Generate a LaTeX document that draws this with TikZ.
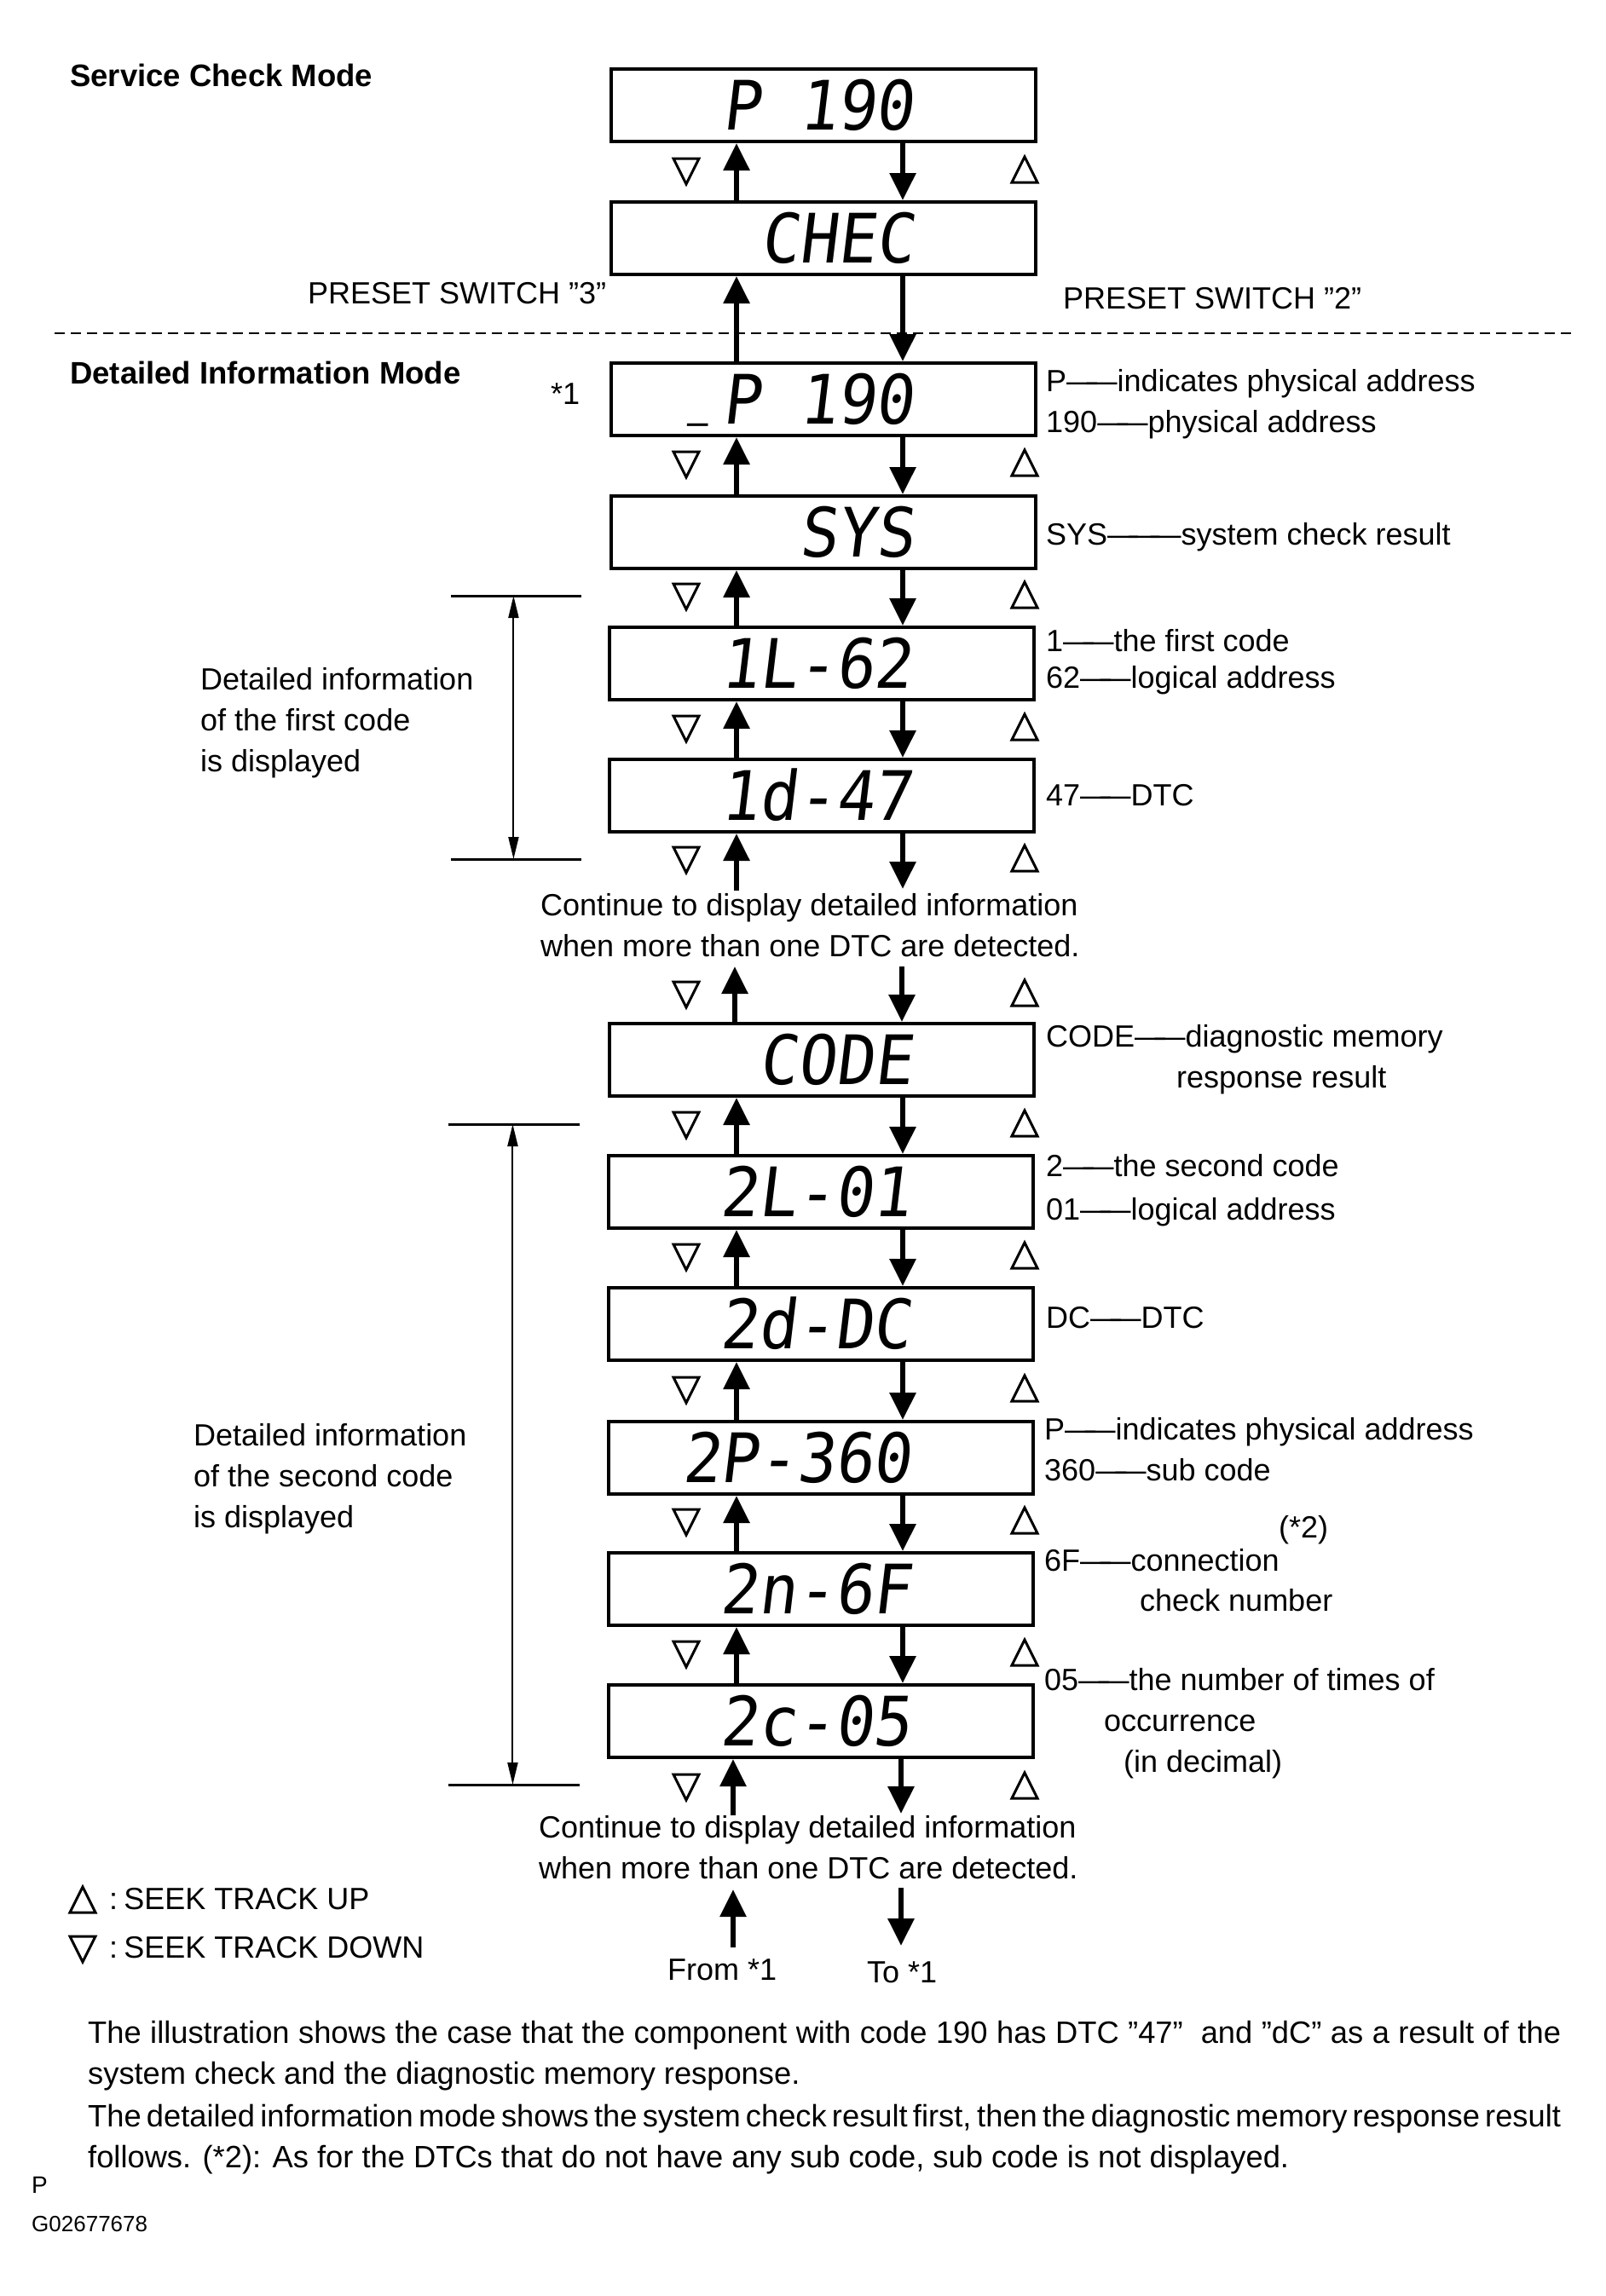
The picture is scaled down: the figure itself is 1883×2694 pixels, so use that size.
\documentclass[tikz,border=0pt]{standalone}
\usepackage{fontspec}
\setmainfont{Liberation Sans}
\newfontfamily\lcdfont[FakeSlant=0.12,FakeStretch=0.93]{DejaVu Sans Mono}
\usetikzlibrary{arrows.meta,calc}
\newcommand\lgdash{\mbox{—\kern-.35em—}}
\newcommand\lgdashL{\mbox{—\kern-.3em—\kern-.3em—}}
\newcommand\fitline[1]{\makebox[1728pt][s]{\spaceskip=0.12em plus 1em\relax #1}}
\begin{document}
\begin{tikzpicture}[x=1pt,y=-1pt,
  lbl/.style={anchor=base west, font=\fontsize{36}{42}\selectfont, inner sep=0pt},
  hdr/.style={anchor=base west, font=\fontsize{36.5}{42}\selectfont\bfseries, inner sep=0pt},
  note/.style={anchor=base west, font=\fontsize{36.3}{42}\selectfont, inner sep=0pt},
  lcdbox/.style={draw, line width=4pt, minimum width=498pt, minimum height=85pt, anchor=north west, inner sep=0pt},
  lcdtxt/.style={anchor=base east, font=\fontsize{80}{80}\lcdfont, inner sep=0pt},
  uparr/.style={line width=6pt, -{Triangle[length=32pt,width=30pt]}},
  dnarr/.style={line width=6pt, -{Triangle[length=32pt,width=30pt]}},
  brk/.style={line width=3pt},
  dimarr/.style={line width=2pt, {Triangle[length=26pt,width=12pt]}-{Triangle[length=26pt,width=12pt]}},
  sepline/.style={line width=2.5pt, dash pattern=on 12pt off 7pt},
  tup/.pic={\draw[line width=3pt, line join=miter] (-15,14) -- (15,14) -- (0,-16) -- cycle;},
  tdown/.pic={\draw[line width=3pt, line join=miter] (-15,-14) -- (15,-14) -- (0,16) -- cycle;}
]
\useasboundingbox (0,0) rectangle (1883,2694);
\fill[white] (0,0) rectangle (1883,2694);

\coordinate (ux) at (864,0);
\coordinate (dx) at (1059,0);

% display boxes
\node[lcdbox] (b1) at (715,79) {};
\node[lcdbox] (b2) at (715,235) {};
\node[lcdbox] (b3) at (715,424) {};
\node[lcdbox] (b4) at (715,580) {};
\node[lcdbox] (b5) at (713,734) {};
\node[lcdbox] (b6) at (713,889) {};
\node[lcdbox] (b7) at (713,1199) {};
\node[lcdbox] (b8) at (712,1354) {};
\node[lcdbox] (b9) at (712,1509) {};
\node[lcdbox] (b10) at (712,1666) {};
\node[lcdbox] (b11) at (712,1820) {};
\node[lcdbox] (b12) at (712,1975) {};

% display texts
\node[lcdtxt] at ($(b1.east)+(-145,29)$) {P 190};
\node[lcdtxt] at ($(b2.east)+(-145,29)$) {CHEC};
\node[lcdtxt] at ($(b3.east)+(-145,29)$) {\raisebox{0.2em}{\scalebox{0.55}[1]{\_}}\kern0.2em P 190};
\node[lcdtxt] at ($(b4.east)+(-145,29)$) {SYS};
\node[lcdtxt] at ($(b5.east)+(-145,29)$) {1L-62};
\node[lcdtxt] at ($(b6.east)+(-145,29)$) {1d-47};
\node[lcdtxt] at ($(b7.east)+(-145,29)$) {CODE};
\node[lcdtxt] at ($(b8.east)+(-145,29)$) {2L-01};
\node[lcdtxt] at ($(b9.east)+(-145,29)$) {2d-DC};
\node[lcdtxt] at ($(b10.east)+(-145,29)$) {2P-360};
\node[lcdtxt] at ($(b11.east)+(-145,29)$) {2n-6F};
\node[lcdtxt] at ($(b12.east)+(-145,29)$) {2c-05};

% arrows between boxes
\foreach \a/\b in {b1/b2,b2/b3,b3/b4,b4/b5,b5/b6,b7/b8,b8/b9,b9/b10,b10/b11,b11/b12}{
  \draw[uparr] (\b.north -| ux) -- (\a.south -| ux);
  \draw[dnarr] (\a.south -| dx) -- (\b.north -| dx);
}
% free ends
\coordinate (f1u) at (864,1045);
\coordinate (f1d) at (1059,1043);
\coordinate (f2u) at (862,1134);
\coordinate (f2d) at (1058,1134);
\coordinate (f3u) at (860,2130);
\coordinate (f3d) at (1057,2128);
\draw[uparr] (f1u) -- (b6.south -| f1u);
\draw[dnarr] (b6.south -| f1d) -- (f1d);
\draw[uparr] (b7.north -| f2u) -- (f2u);
\draw[dnarr] (f2d) -- (b7.north -| f2d);
\draw[uparr] (f3u) -- (b12.south -| f3u);
\draw[dnarr] (b12.south -| f3d) -- (f3d);
\coordinate (g1) at (860,2285);
\coordinate (g2) at (860,2217);
\coordinate (g3) at (1057,2215);
\coordinate (g4) at (1057,2283);
\draw[uparr] (g1) -- (g2);
\draw[dnarr] (g3) -- (g4);

% seek triangles
\foreach \y in {200,544,699,854,1008,1166,1319,1474,1630,1785,1940,2096}{
  \pic at (805,\y) {tdown};
  \pic at (1202,\y) {tup};
}

% separator
\coordinate (s1) at (64,391);
\coordinate (s2) at (1847,391);
\draw[sepline] (s1) -- (s2);

% brackets
\coordinate (k1a) at (529,699); \coordinate (k1b) at (682,699);
\coordinate (k1c) at (529,1008); \coordinate (k1d) at (682,1008);
\draw[brk] (k1a) -- (k1b);
\draw[brk] (k1c) -- (k1d);
\draw[dimarr] ($(k1a)!0.48!(k1b)$) -- ($(k1c)!0.48!(k1d)$);
\coordinate (k2a) at (526,1319); \coordinate (k2b) at (680,1319);
\coordinate (k2c) at (526,2094); \coordinate (k2d) at (680,2094);
\draw[brk] (k2a) -- (k2b);
\draw[brk] (k2c) -- (k2d);
\draw[dimarr] ($(k2a)!0.49!(k2b)$) -- ($(k2c)!0.49!(k2d)$);

% headings and labels
\node[hdr] (h1) at (82,101) {Service Check Mode};
\node[hdr] (h2) at (82,450) {Detailed Information Mode};
\node[lbl] (ps3) at (361,356) {PRESET SWITCH ”3”};
\node[lbl] (ps2) at (1247,362) {PRESET SWITCH ”2”};
\node[lbl] (st1) at (646,474) {*1};

\node[lbl] at (1227,459) {P\lgdash indicates physical address};
\node[lbl] at (1227,507) {190\lgdash physical address};
\node[lbl] at (1227,639) {SYS\lgdashL system check result};
\node[lbl] at (1227,764) {1\lgdash the first code};
\node[lbl] at (1227,807) {62\lgdash logical address};
\node[lbl] at (1227,945) {47\lgdash DTC};

\node[lbl] at (235,809) {Detailed information};
\node[lbl] at (235,857) {of the first code};
\node[lbl] at (235,905) {is displayed};

\node[lbl] at (634,1074) {Continue to display detailed information};
\node[lbl] at (634,1122) {when more than one DTC are detected.};

\node[lbl] at (1227,1228) {CODE\lgdash diagnostic memory};
\node[lbl] at (1380,1276) {response result};
\node[lbl] at (1227,1380) {2\lgdash the second code};
\node[lbl] at (1227,1431) {01\lgdash logical address};
\node[lbl] at (1227,1558) {DC\lgdash DTC};

\node[lbl] at (227,1696) {Detailed information};
\node[lbl] at (227,1744) {of the second code};
\node[lbl] at (227,1792) {is displayed};

\node[lbl] at (1225,1689) {P\lgdash indicates physical address};
\node[lbl] at (1225,1737) {360\lgdash sub code};
\node[lbl] at (1500,1804) {(*2)};
\node[lbl] at (1225,1843) {6F\lgdash connection};
\node[lbl] at (1337,1890) {check number};
\node[lbl] at (1225,1983) {05\lgdash the number of times of};
\node[lbl] at (1295,2031) {occurrence};
\node[lbl] at (1318,2079) {(in decimal)};

\node[lbl] at (632,2156) {Continue to display detailed information};
\node[lbl] at (632,2204) {when more than one DTC are detected.};

% legend
\pic at (97,2230) {tup};
\node[lbl] at (128,2240) {:\kern0.2em SEEK TRACK UP};
\pic at (97,2286) {tdown};
\node[lbl] at (128,2297) {:\kern0.2em SEEK TRACK DOWN};

\node[lbl] at (783,2323) {From *1};
\node[lbl] at (1017,2326) {To *1};

% note
\node[note] at (103,2397) {\fitline{The illustration shows the case that the component with code 190 has DTC ”47”\ \ and ”dC” as a result of the}};
\node[note] at (103,2445) {system check and the diagnostic memory response.};
\node[note] at (103,2495) {\fitline{The detailed information mode shows the system check result first, then the diagnostic memory response result}};
\node[note] at (103,2543) {follows. (*2): As for the DTCs that do not have any sub code, sub code is not displayed.};

\node[anchor=base west, inner sep=0pt, font=\fontsize{28}{32}\selectfont] at (37,2573) {P};
\node[anchor=base west, inner sep=0pt, font=\fontsize{26}{30}\selectfont] at (37,2618) {G02677678};
\end{tikzpicture}
\end{document}
